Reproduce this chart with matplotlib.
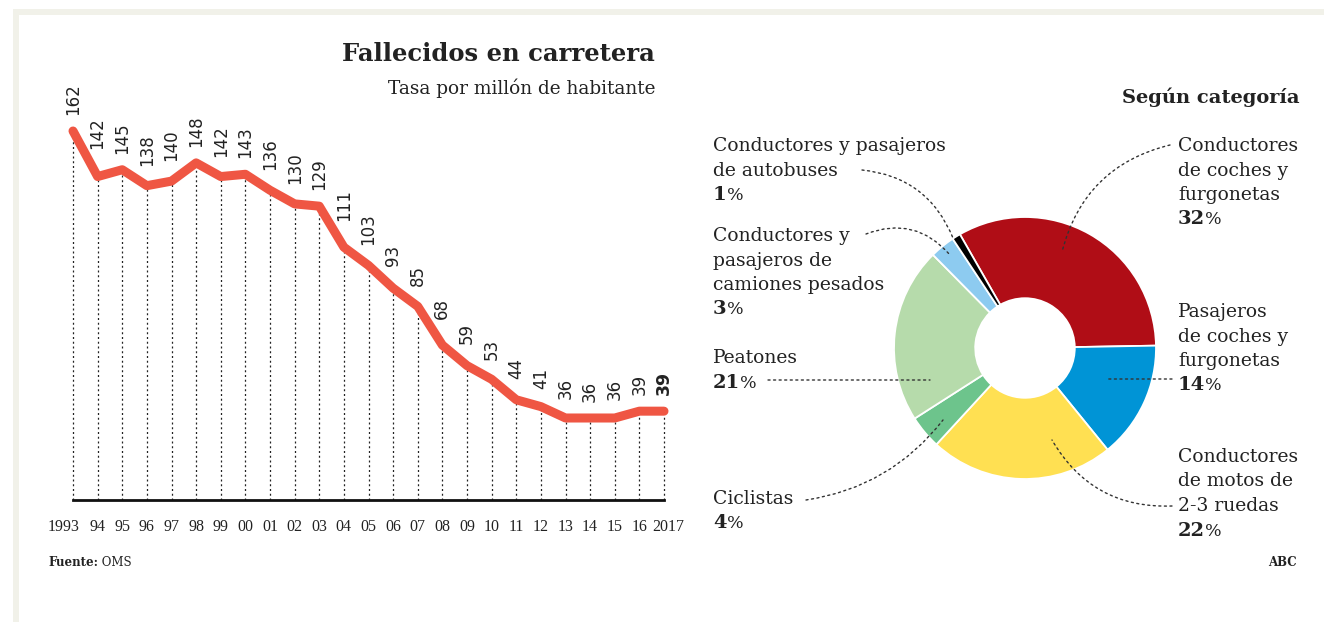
import matplotlib

matplotlib.use("Agg")
import matplotlib.pyplot as plt
from matplotlib.patches import Rectangle
from matplotlib.transforms import ScaledTranslation, blended_transform_factory

# Road deaths per million inhabitants, Spain
years = list(range(1993, 2018))
rates = [162, 142, 145, 138, 140, 148, 142, 143, 136, 130, 129, 111, 103,
         93, 85, 68, 59, 53, 44, 41, 36, 36, 36, 39, 39]
year_labels = ["1993", "94", "95", "96", "97", "98", "99", "00", "01", "02",
               "03", "04", "05", "06", "07", "08", "09", "10", "11", "12",
               "13", "14", "15", "16", "2017"]

# Share by category (pie order, clockwise from the red wedge)
cat_lines = [
    ["Conductores", "de coches y", "furgonetas"],
    ["Pasajeros", "de coches y", "furgonetas"],
    ["Conductores", "de motos de", "2-3 ruedas"],
    ["Ciclistas"],
    ["Peatones"],
    ["Conductores y", "pasajeros de", "camiones pesados"],
    ["Conductores y pasajeros", "de autobuses"],
]
shares = [32, 14, 22, 4, 21, 3, 1]
cat_colors = ["#b00d16", "#0094d6", "#ffe052", "#6dc48c", "#b6dbab",
              "#8dcbf0", "#000000"]

RED = "#ef5643"
SERIF = "DejaVu Serif"
W, H = 1324, 622


def px_box(left, top, right, bottom):
    """Axes rectangle from pixel edges (origin top-left)."""
    return [left / W, 1 - bottom / H, (right - left) / W, (bottom - top) / H]


fig = plt.figure(figsize=(W / 100, H / 100), dpi=100)
fig.patch.set_facecolor("white")

# ---- line chart ----
ax = fig.add_axes(px_box(73, 131, 664, 500))
ax.set_xlim(years[0], years[-1])
ax.set_ylim(0, 162)
ax.vlines(years, 0, rates, colors="#222222", linestyles=(0, (1.6, 2.2)),
          linewidth=0.9, zorder=2, clip_on=False)
ax.plot(years, rates, color=RED, linewidth=6.5, solid_capstyle="round",
        solid_joinstyle="round", clip_on=False, zorder=3)

px_per_unit = 369 / 162
for i, (yr, v) in enumerate(zip(years, rates)):
    higher = 0
    for j in (i - 1, i + 1):
        if 0 <= j < len(rates):
            higher = max(higher, rates[j] - v)
    gap_px = 16 + 0.25 * higher * px_per_unit
    last = i == len(rates) - 1
    ax.annotate(str(v), (yr, v), xytext=(0, gap_px * 0.72),
                textcoords="offset points", rotation=90, ha="center",
                va="bottom", fontsize=12.5 if last else 12,
                fontweight="bold" if last else "normal",
                family="DejaVu Sans", color="#222222")

for side in ("top", "left", "right"):
    ax.spines[side].set_visible(False)
ax.spines["bottom"].set_linewidth(2)
ax.spines["bottom"].set_color("#111111")
ax.set_yticks([])
ax.set_xticks([])

# year labels, the two four-digit ends nudged outward
xt = blended_transform_factory(ax.transData, ax.transAxes)
for i, (yr, lab) in enumerate(zip(years, year_labels)):
    dx = -9 if i == 0 else (4 if i == len(years) - 1 else 0)
    ax.text(yr, 0, lab, ha="center", va="center", fontsize=11.5,
            family="Liberation Serif", color="#222222",
            transform=xt + ScaledTranslation(dx / 100, -27 / 100,
                                             fig.dpi_scale_trans))
ax.patch.set_alpha(0)

# ---- donut ----
pax = fig.add_axes(px_box(894, 217, 1156, 479))
pax.pie(shares, colors=cat_colors, startangle=119.8, counterclock=False,
        radius=1, wedgeprops=dict(width=0.62, edgecolor="white",
                                  linewidth=1.3))
pax.set_xlim(-1, 1)
pax.set_ylim(-1, 1)
pax.set_aspect("auto")
pax.axis("off")

# ---- overlay for text, leaders and frame ----
ov = fig.add_axes([0, 0, 1, 1])
ov.set_xlim(0, W)
ov.set_ylim(H, 0)
ov.axis("off")

frame = "#f1f1e9"
ov.add_patch(Rectangle((14, 9), W - 14, 6, color=frame, lw=0))
ov.add_patch(Rectangle((13, 9), 6, H - 9, color=frame, lw=0))

txt = dict(family=SERIF, color="#222222")
ov.text(655, 61, "Fallecidos en carretera", ha="right", va="baseline",
        fontsize=17.5, fontweight="bold", **txt)
ov.text(655, 94, "Tasa por millón de habitante", ha="right",
        va="baseline", fontsize=13.3, **txt)
ov.text(1300, 103, "Según categoría", ha="right", va="baseline",
        fontsize=14, fontweight="bold", **txt)
src = ov.text(48, 566, "Fuente:", ha="left", va="baseline", fontsize=8.5,
              fontweight="bold", **txt)
ov.annotate(" OMS", xy=(1, 0), xycoords=src, ha="left", va="bottom",
            fontsize=8.5, **txt)
ov.text(1297, 566, "ABC", ha="right", va="baseline", fontsize=8.5,
        fontweight="bold", **txt)

# label block positions: (left x, first baseline y)
label_pos = [(1178, 151), (1178, 317), (1178, 462), (713, 504),
             (713, 363), (713, 241), (713, 151)]
step = 24.5
for lines, share, (lx, ly) in zip(cat_lines, shares, label_pos):
    for k, line in enumerate(lines):
        ov.text(lx, ly + k * step, line, ha="left", va="baseline",
                fontsize=13.5, **txt)
    num = ov.text(lx, ly + len(lines) * step, str(share), ha="left",
                  va="baseline", fontsize=14, fontweight="bold", **txt)
    ov.annotate("%", xy=(1, 0), xycoords=num, ha="left", va="bottom",
                fontsize=12.5, **txt)

# dotted leaders: (start, end, arc)
leaders = [
    ((1170, 145), (1062, 252), 0.3),
    ((1172, 379), (1108, 379), 0.0),
    ((1172, 506), (1052, 440), -0.3),
    ((806, 500), (943, 420), 0.2),
    ((768, 380), (930, 380), 0.0),
    ((866, 234), (950, 255), -0.35),
    ((862, 170), (953, 238), -0.3),
]
for start, end, rad in leaders:
    ov.annotate("", xy=end, xytext=start,
                arrowprops=dict(arrowstyle="-", color="#333333", lw=1.0,
                                linestyle=(0, (1.5, 2.5)), shrinkA=0,
                                shrinkB=0,
                                connectionstyle=f"arc3,rad={rad}"))

fig.savefig("out.png", dpi=100, facecolor="white")
